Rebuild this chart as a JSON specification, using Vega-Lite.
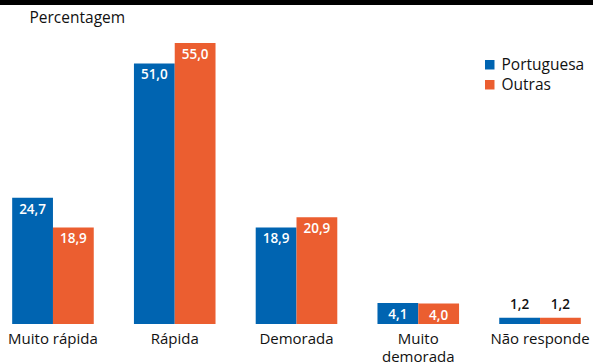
{
  "$schema": "https://vega.github.io/schema/vega-lite/v6.json",
  "width": 593,
  "height": 281,
  "autosize": {"type": "none"},
  "padding": {"top": 43, "left": 0, "right": 0, "bottom": 40},
  "config": {
    "font": "Open Sans",
    "view": {"stroke": null},
    "locale": {"number": {"decimal": ",", "thousands": ".", "grouping": [3], "currency": ["", " €"]}}
  },
  "data": {
    "values": [
      {"categoria": "Muito rápida", "grupo": "Portuguesa", "valor": 24.7},
      {"categoria": "Muito rápida", "grupo": "Outras", "valor": 18.9},
      {"categoria": "Rápida", "grupo": "Portuguesa", "valor": 51.0},
      {"categoria": "Rápida", "grupo": "Outras", "valor": 55.0},
      {"categoria": "Demorada", "grupo": "Portuguesa", "valor": 18.9},
      {"categoria": "Demorada", "grupo": "Outras", "valor": 20.9},
      {"categoria": "Muito demorada", "grupo": "Portuguesa", "valor": 4.1},
      {"categoria": "Muito demorada", "grupo": "Outras", "valor": 4.0},
      {"categoria": "Não responde", "grupo": "Portuguesa", "valor": 1.2},
      {"categoria": "Não responde", "grupo": "Outras", "valor": 1.2}
    ]
  },
  "encoding": {
    "x": {
      "field": "categoria",
      "type": "nominal",
      "sort": ["Muito rápida", "Rápida", "Demorada", "Muito demorada", "Não responde"],
      "scale": {"paddingInner": 0.33, "paddingOuter": 0.1},
      "axis": {
        "title": null,
        "domain": false,
        "ticks": false,
        "labelAngle": 0,
        "labelFontSize": 15,
        "labelColor": "#111111",
        "labelPadding": 7,
        "labelLineHeight": 18,
        "labelOverlap": false,
        "labelExpr": "datum.value == 'Muito demorada' ? ['Muito', 'demorada'] : datum.value"
      }
    },
    "xOffset": {
      "field": "grupo",
      "type": "nominal",
      "sort": ["Portuguesa", "Outras"],
      "scale": {"paddingInner": 0, "paddingOuter": 0}
    },
    "y": {
      "field": "valor",
      "type": "quantitative",
      "scale": {"domain": [0, 55], "nice": false},
      "axis": {
        "title": "Percentagem",
        "titleAngle": 0,
        "titleAlign": "left",
        "titleBaseline": "middle",
        "titleX": 29,
        "titleY": -26,
        "titleFontSize": 15.5,
        "titleFontWeight": "normal",
        "titleColor": "#111111",
        "labels": false,
        "ticks": false,
        "domain": false,
        "grid": false
      }
    }
  },
  "layer": [
    {
      "mark": {"type": "rule", "color": "#000000", "strokeWidth": 5, "clip": false},
      "encoding": {"x": null, "xOffset": null, "y": {"datum": 63}}
    },
    {
      "mark": {"type": "bar"},
      "encoding": {
        "color": {
          "field": "grupo",
          "type": "nominal",
          "sort": ["Portuguesa", "Outras"],
          "scale": {"domain": ["Portuguesa", "Outras"], "range": ["#0064b1", "#eb5e30"]},
          "legend": {
            "title": null,
            "orient": "none",
            "legendX": 482,
            "legendY": 14,
            "symbolType": "square",
            "symbolSize": 90,
            "symbolStrokeWidth": 0,
            "labelFontSize": 15.5,
            "labelColor": "#111111",
            "rowPadding": 3
          }
        }
      }
    },
    {
      "transform": [{"filter": "datum.valor >= 2"}],
      "mark": {"type": "text", "color": "#ffffff", "baseline": "middle", "dy": 12, "fontSize": 13.5, "fontWeight": 600},
      "encoding": {"text": {"field": "valor", "type": "quantitative", "format": ".1f"}}
    },
    {
      "transform": [{"filter": "datum.valor < 2"}],
      "mark": {"type": "text", "color": "#111111", "baseline": "middle", "dy": -13, "fontSize": 13.5, "fontWeight": 600},
      "encoding": {"text": {"field": "valor", "type": "quantitative", "format": ".1f"}}
    }
  ]
}
